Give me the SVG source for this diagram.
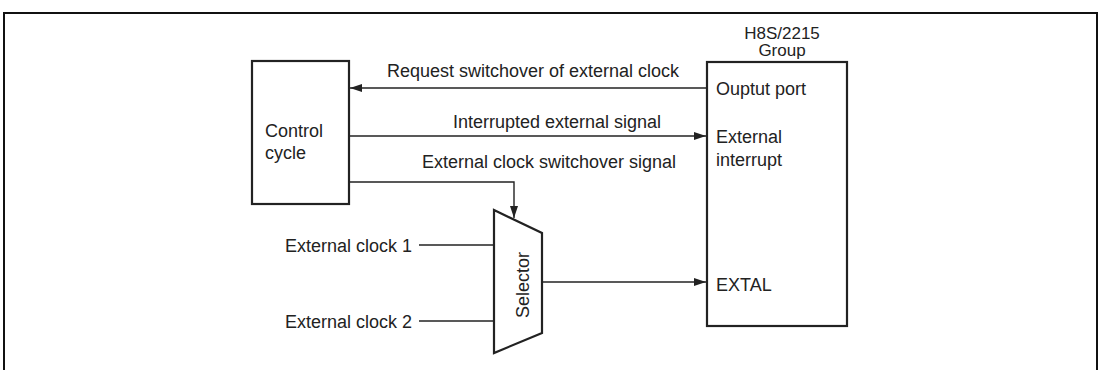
<svg xmlns="http://www.w3.org/2000/svg" width="1100" height="370" viewBox="0 0 1100 370">
<style>
text{font-family:"Liberation Sans",Arial,sans-serif;font-size:18px;fill:#222}
.hd{font-size:17px}
.box{fill:#fff;stroke:#222;stroke-width:2.2}
.ln{fill:none;stroke:#222;stroke-width:1.4}
</style>
<defs>
<marker id="ah" viewBox="0 0 12 8" refX="12" refY="4" markerWidth="12" markerHeight="8" markerUnits="userSpaceOnUse" orient="auto">
<path d="M0,0 L12,4 L0,8 Z" fill="#222"/>
</marker>
</defs>
<rect x="0" y="0" width="1100" height="370" fill="#fff"/>
<rect x="4" y="13" width="1093" height="380" fill="none" stroke="#111" stroke-width="2"/>
<g id="connectors">
<line class="ln" x1="707" y1="88" x2="350" y2="88" marker-end="url(#ah)"/>
<text x="533" y="77" text-anchor="middle">Request switchover of external clock</text>
<line class="ln" x1="349" y1="136" x2="706" y2="136" marker-end="url(#ah)"/>
<text x="557" y="128" text-anchor="middle">Interrupted external signal</text>
<polyline class="ln" points="349,182 514,182 514,218" marker-end="url(#ah)"/>
<text x="549" y="168" text-anchor="middle">External clock switchover signal</text>
<line class="ln" x1="419" y1="245" x2="494" y2="245"/>
<text x="285" y="252">External clock 1</text>
<line class="ln" x1="419" y1="321" x2="494" y2="321"/>
<text x="285" y="328">External clock 2</text>
<line class="ln" x1="542" y1="282" x2="706" y2="282" marker-end="url(#ah)"/>
</g>
<g id="control">
<rect class="box" x="252" y="61" width="97" height="143"/>
<text x="265" y="137">Control</text>
<text x="265" y="159">cycle</text>
</g>
<g id="selector">
<polygon class="box" points="494,210 542,233 542,333 494,353"/>
<text transform="translate(529,285) rotate(-90)" text-anchor="middle">Selector</text>
</g>
<g id="h8s">
<text class="hd" x="782" y="39" text-anchor="middle">H8S/2215</text>
<text class="hd" x="782" y="56" text-anchor="middle">Group</text>
<rect class="box" x="707" y="62" width="140" height="264"/>
<text x="716" y="95">Ouptut port</text>
<text x="716" y="143">External</text>
<text x="716" y="166">interrupt</text>
<text x="716" y="291">EXTAL</text>
</g>
</svg>
